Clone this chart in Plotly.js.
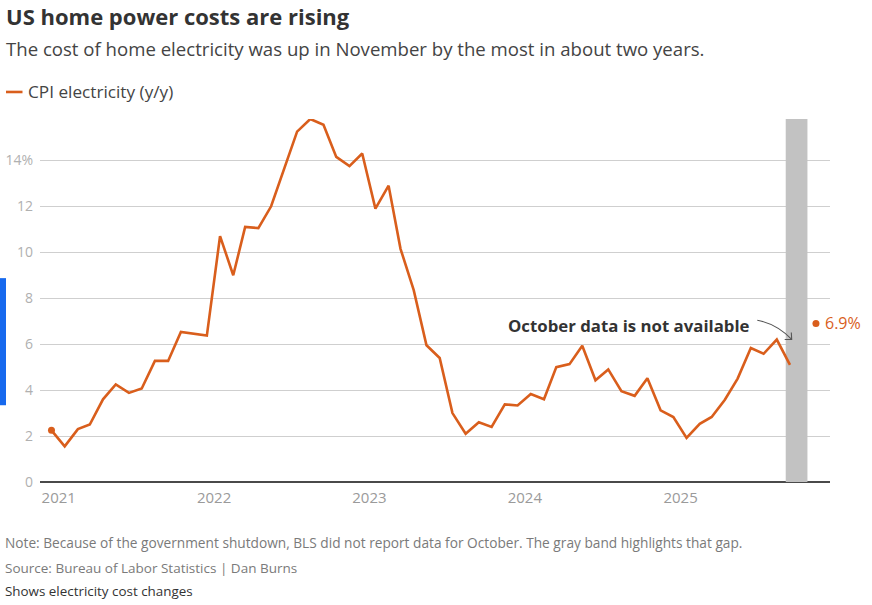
<!DOCTYPE html>
<html>
<head>
<meta charset="utf-8">
<script src="https://cdn.plot.ly/plotly-3.0.1.min.js"></script>
<style>
  html, body { margin: 0; padding: 0; background: #fff; }
  #chart { width: 872px; height: 605px; }
</style>
</head>
<body>
<div id="chart"></div>
<script>
// ---- Data ----
const startMonth = '2020-12';
// CPI electricity, y/y % change, monthly from Dec 2020 to Nov 2025 (Oct 2025 not reported)
const cpiDec2020 = [2.25];
const cpi2021 = [1.55, 2.3, 2.5, 3.6, 4.25, 3.88, 4.07, 5.27, 5.27, 6.53, 6.45, 6.37];
const cpi2022 = [10.7, 9.0, 11.1, 11.05, 12.0, 13.7, 15.25, 15.8, 15.55, 14.15, 13.75, 14.3];
const cpi2023 = [11.9, 12.9, 10.15, 8.35, 5.95, 5.4, 3.0, 2.1, 2.6, 2.4, 3.38, 3.33];
const cpi2024 = [3.83, 3.6, 5.0, 5.13, 5.93, 4.43, 4.9, 3.95, 3.75, 4.52, 3.12, 2.83];
const cpi2025 = [1.92, 2.53, 2.83, 3.58, 4.5, 5.83, 5.58, 6.2, 5.1, null, 6.9];
const yTickVals = [0, 2, 4, 6, 8, 10, 12, 14];
const yTickText = ['0', '2', '4', '6', '8', '10', '12', '14%'];
const xTickVals = ['2021-01-01', '2022-01-01', '2023-01-01', '2024-01-01', '2025-01-01'];
const xTickText = ['2021', '2022', '2023', '2024', '2025'];
const gapBand = ['2025-09-05', '2025-10-26'];
const seriesName = 'CPI electricity (y/y)';

const values = [].concat(cpiDec2020, cpi2021, cpi2022, cpi2023, cpi2024, cpi2025);
const dates = values.map((v, i) => {
  let y = parseInt(startMonth.slice(0, 4), 10);
  let m = parseInt(startMonth.slice(5, 7), 10) - 1 + i;
  y += Math.floor(m / 12); m = m % 12;
  return y + '-' + String(m + 1).padStart(2, '0') + '-15';
});
const lastIdx = values.length - 1;

// ---- Layout helpers (pixel -> paper) ----
const W = 872, H = 605;
const L = 40, R = 830, T = 119, B = 481.7;
const px = x => (x - L) / (R - L);
const py = y => (B - y) / (B - T);

const ORANGE = '#d95e1c';
const FONT = 'Open Sans, sans-serif';

const traces = [
  {
    x: dates, y: values, type: 'scatter', mode: 'lines',
    line: { color: ORANGE, width: 2.6 }, connectgaps: false,
    name: seriesName, hoverinfo: 'x+y', showlegend: false
  },
  {
    x: [dates[0], dates[lastIdx]], y: [values[0], values[lastIdx]],
    type: 'scatter', mode: 'markers',
    marker: { color: ORANGE, size: 7 }, showlegend: false, hoverinfo: 'skip'
  }
];

// curved arrow path in paper coords
const arrowPath =
  'M ' + px(757.3) + ' ' + py(320) +
  ' Q ' + px(777) + ' ' + py(324) + ' ' + px(791.7) + ' ' + py(339.3) +
  ' M ' + px(791.3) + ' ' + py(332.3) + ' L ' + px(791.7) + ' ' + py(339.3) +
  ' L ' + px(784.7) + ' ' + py(339.3);

const layout = {
  width: W, height: H,
  margin: { l: L, r: W - R, t: T, b: H - B },
  paper_bgcolor: '#fff', plot_bgcolor: '#fff',
  font: { family: FONT, color: '#444' },
  showlegend: false,
  xaxis: {
    type: 'date',
    range: ['2020-11-18', '2025-12-18'],
    tickvals: xTickVals, ticktext: xTickText,
    showgrid: false, zeroline: false, showline: false, ticks: '',
    ticklabelstandoff: 5,
    tickfont: { family: FONT, size: 15, color: '#9a9a9a' },
    fixedrange: true
  },
  yaxis: {
    range: [0, 15.8],
    tickvals: yTickVals, ticktext: yTickText,
    showgrid: true, gridcolor: '#cfcfcf', gridwidth: 1,
    zeroline: true, zerolinecolor: '#4a4a4a', zerolinewidth: 1.5,
    showline: false, ticks: '', ticklabelstandoff: 6,
    tickfont: { family: FONT, size: 14, color: '#b0b0b0' },
    fixedrange: true
  },
  shapes: [
    { type: 'rect', xref: 'x', yref: 'y', x0: gapBand[0], x1: gapBand[1], y0: 0, y1: 15.8,
      fillcolor: '#c2c2c2', line: { width: 0 }, layer: 'between' },
    { type: 'line', xref: 'paper', yref: 'paper', x0: px(6), x1: px(22.5), y0: py(92), y1: py(92),
      line: { color: ORANGE, width: 2.6 } },
    { type: 'rect', xref: 'paper', yref: 'paper', x0: px(0), x1: px(6), y0: py(278), y1: py(405),
      fillcolor: '#1769ee', line: { width: 0 } },
    { type: 'path', xref: 'paper', yref: 'paper', path: arrowPath,
      line: { color: '#555', width: 1.1 } }
  ],
  annotations: [
    { xref: 'paper', yref: 'paper', x: px(4), y: py(16), xanchor: 'left', yanchor: 'middle',
      text: '<b>US home power costs are rising</b>', showarrow: false,
      font: { family: FONT, size: 22, color: '#333' } },
    { xref: 'paper', yref: 'paper', x: px(4), y: py(49), xanchor: 'left', yanchor: 'middle',
      text: 'The cost of home electricity was up in November by the most in about two years.', showarrow: false,
      font: { family: FONT, size: 18.6, color: '#444' } },
    { xref: 'paper', yref: 'paper', x: px(26), y: py(92), xanchor: 'left', yanchor: 'middle',
      text: seriesName, showarrow: false,
      font: { family: FONT, size: 17.2, color: '#444' } },
    { xref: 'paper', yref: 'y', x: px(752), y: (B - 325) / ((B - T) / 15.8), xanchor: 'right', yanchor: 'middle',
      text: '<b>October data is not available</b>', showarrow: false,
      font: { family: FONT, size: 16.8, color: '#333' } },
    { xref: 'x', yref: 'y', x: dates[lastIdx], y: values[lastIdx], xanchor: 'left', yanchor: 'middle',
      xshift: 7, text: values[lastIdx].toFixed(1) + '%', showarrow: false,
      font: { family: FONT, size: 16, color: ORANGE } },
    { xref: 'paper', yref: 'paper', x: px(3), y: py(542), xanchor: 'left', yanchor: 'middle',
      text: 'Note: Because of the government shutdown, BLS did not report data for October. The gray band highlights that gap.',
      showarrow: false, font: { family: FONT, size: 13.7, color: '#7a7a7a' } },
    { xref: 'paper', yref: 'paper', x: px(3), y: py(568), xanchor: 'left', yanchor: 'middle',
      text: 'Source: Bureau of Labor Statistics | Dan Burns',
      showarrow: false, font: { family: FONT, size: 13.5, color: '#7a7a7a' } },
    { xref: 'paper', yref: 'paper', x: px(3), y: py(591), xanchor: 'left', yanchor: 'middle',
      text: 'Shows electricity cost changes',
      showarrow: false, font: { family: FONT, size: 13.4, color: '#333' } }
  ]
};

Plotly.newPlot('chart', traces, layout, { displayModeBar: false, staticPlot: true });
</script>
</body>
</html>
